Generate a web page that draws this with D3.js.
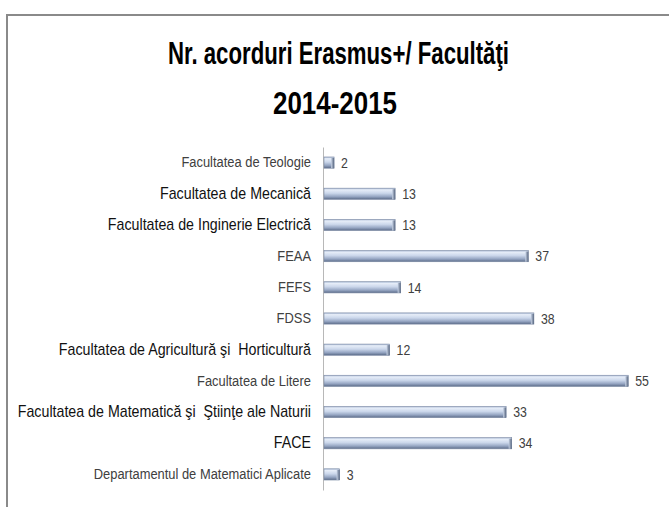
<!DOCTYPE html>
<html>
<head>
<meta charset="utf-8">
<script src="https://cdn.jsdelivr.net/npm/d3@7"></script>
<style>
  body { margin: 0; background: #fff; }
  svg text { font-family: "Liberation Sans", Arial, sans-serif; white-space: pre; }
</style>
</head>
<body>
<svg id="chart" width="669" height="507"></svg>
<script>
// chart data (top to bottom)
const categories = [
  "Facultatea de Teologie",
  "Facultatea de Mecanică",
  "Facultatea de Inginerie Electrică",
  "FEAA",
  "FEFS",
  "FDSS",
  "Facultatea de Agricultură şi  Horticultură",
  "Facultatea de Litere",
  "Facultatea de Matematică şi  Ştiinţe ale Naturii",
  "FACE",
  "Departamentul de Matematici Aplicate"
];
const values = [2, 13, 13, 37, 14, 38, 12, 55, 33, 34, 3];
const titleLines = ["Nr. acorduri Erasmus+/ Facultăţi", "2014-2015"];

// labels typed in a bigger font in the original
const bigLabels = new Set([categories[1], categories[2], categories[6], categories[8], categories[9]]);

// no narrow font installed, so squeeze text horizontally
const narrow = 0.89;

const svg = d3.select("#chart");

// frame (top + left edges only visible)
svg.append("path")
  .attr("d", "M7,507 V15 H669")
  .attr("fill", "none")
  .attr("stroke", "#8a8a8a")
  .attr("stroke-width", 2);

// title, squeezed to the original widths
const titleWidths = [341, 124];
const titleCx = [338.5, 335];
svg.append("g").selectAll("text")
  .data(titleLines)
  .join("text")
  .attr("x", (d, i) => titleCx[i] - titleWidths[i] / 2)
  .attr("y", (d, i) => 64 + i * 50)
  .attr("textLength", (d, i) => titleWidths[i])
  .attr("lengthAdjust", "spacingAndGlyphs")
  .attr("font-size", 31)
  .attr("font-weight", "bold")
  .attr("fill", "#000")
  .text(d => d);

const x = d3.scaleLinear().domain([0, 60]).range([323, 656]);
const y = d3.scaleBand().domain(categories).range([147, 490]).paddingInner(0.64).paddingOuter(0.32);

// gradient for the bevelled bars
const defs = svg.append("defs");
const grad = defs.append("linearGradient")
  .attr("id", "barGrad").attr("x1", 0).attr("y1", 0).attr("x2", 0).attr("y2", 1);
grad.selectAll("stop")
  .data([[0, "#a7b7d2"], [0.15, "#e6edf8"], [0.45, "#cbd7eb"], [0.75, "#96a6c3"], [1, "#5b6b88"]])
  .join("stop")
  .attr("offset", d => d[0])
  .attr("stop-color", d => d[1]);

const capGrad = defs.append("linearGradient")
  .attr("id", "capGrad").attr("x1", 0).attr("y1", 0).attr("x2", 1).attr("y2", 0);
capGrad.selectAll("stop")
  .data([[0, "#c9d4e6"], [1, "#56657f"]])
  .join("stop")
  .attr("offset", d => d[0])
  .attr("stop-color", d => d[1]);

// category axis
const yAxis = d3.axisLeft(y).tickSize(0).tickPadding(0);
const ag = svg.append("g").attr("transform", `translate(${x(0)},0)`).call(yAxis);
ag.select(".domain").attr("stroke", "#b8b8b8").attr("stroke-width", 1);
ag.selectAll(".tick text")
  .attr("x", -12 / narrow)
  .attr("transform", `scale(${narrow},1)`)
  .attr("font-size", d => bigLabels.has(d) ? 16 : 14.5)
  .attr("fill", d => bigLabels.has(d) ? "#111" : "#404040")
  .attr("font-family", null);

const rows = svg.append("g").selectAll("g")
  .data(categories.map((c, i) => ({ c, v: values[i] })))
  .join("g");

rows.append("rect")
  .attr("x", x(0) + 1)
  .attr("y", d => y(d.c))
  .attr("width", d => x(d.v) - x(0) - 1)
  .attr("height", y.bandwidth())
  .attr("fill", "url(#barGrad)")
  .attr("stroke", "#7e8ca6")
  .attr("stroke-width", 0.6);

// bevelled end cap
rows.append("rect")
  .attr("x", d => x(d.v) - 3)
  .attr("y", d => y(d.c) + 1)
  .attr("width", 3)
  .attr("height", y.bandwidth() - 1)
  .attr("fill", "url(#capGrad)");

rows.append("text")
  .attr("transform", d => `translate(${x(d.v) + 7},${y(d.c) + y.bandwidth() / 2}) scale(0.85,1)`)
  .attr("dy", "0.36em")
  .attr("font-size", 14.5)
  .attr("fill", "#404040")
  .text(d => d.v);
</script>
</body>
</html>
